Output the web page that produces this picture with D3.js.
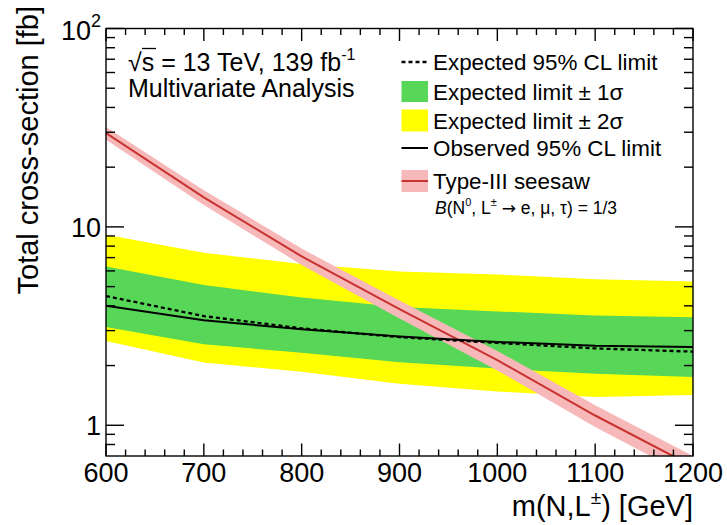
<!DOCTYPE html>
<html>
<head>
<meta charset="utf-8">
<script src="https://cdn.jsdelivr.net/npm/d3@7"></script>
<style>
  html, body { margin: 0; padding: 0; background: #fff; }
  svg { display: block; font-family: "Liberation Sans", Arial, Helvetica, sans-serif; }
</style>
</head>
<body>
<svg id="chart" width="727" height="525"></svg>
<script>
// Heavy-lepton mass points [GeV]
const mass = [600, 700, 800, 900, 1000, 1100, 1200];

// 95% CL upper limits on the total cross-section [fb]
const observed = [4.0, 3.38, 3.05, 2.80, 2.63, 2.52, 2.48];
const expected = [4.48, 3.55, 3.08, 2.78, 2.60, 2.44, 2.35];
const exp1Up   = [6.32, 5.10, 4.40, 3.95, 3.75, 3.58, 3.50];
const exp1Down = [3.13, 2.56, 2.32, 2.08, 1.93, 1.82, 1.75];
const exp2Up   = [9.14, 7.40, 6.50, 5.95, 5.75, 5.45, 5.30];
const exp2Down = [2.66, 2.07, 1.86, 1.62, 1.48, 1.39, 1.42];

// Type-III seesaw prediction and its uncertainty band [fb]
const theory     = [29.7, 14.1, 7.10, 3.85, 2.13, 1.12, 0.62];
const theoryUp   = [31.9, 15.3, 7.77, 4.25, 2.37, 1.26, 0.70];
const theoryDown = [27.5, 12.9, 6.43, 3.45, 1.89, 0.98, 0.54];

// Axis ticks
const xMajor = [600, 700, 800, 900, 1000, 1100, 1200];
const xMinor = d3.range(600, 1201, 20);
const yMajor = [1, 10, 100];
const yMinor = [0.8, 0.9, 2, 3, 4, 5, 6, 7, 8, 9, 20, 30, 40, 50, 60, 70, 80, 90];

const L = 106, R = 693, T = 28.5, B = 456;
const x = d3.scaleLinear().domain([600, 1200]).range([L, R]);
const y = d3.scaleLog().domain([0.7, 100]).range([B, T]);

const svg = d3.select("#chart");
svg.append("defs").append("clipPath").attr("id", "plotclip")
  .append("rect").attr("x", L).attr("y", T).attr("width", R - L).attr("height", B - T);

const plot = svg.append("g").attr("clip-path", "url(#plotclip)");

const idx = d3.range(mass.length);
const band = (lo, hi) => d3.area().x(i => x(mass[i])).y0(i => y(lo[i])).y1(i => y(hi[i]))(idx);
const line = arr => d3.line().x(i => x(mass[i])).y(i => y(arr[i]))(idx);

const YELLOW = "#ffff00", GREEN = "#57d657", PINK = "#f6b8b8", RED = "#c8322f";

plot.append("path").attr("d", band(exp2Down, exp2Up)).attr("fill", YELLOW);
plot.append("path").attr("d", band(exp1Down, exp1Up)).attr("fill", GREEN);
plot.append("path").attr("d", band(theoryDown, theoryUp)).attr("fill", PINK);
plot.append("path").attr("d", line(theory)).attr("fill", "none").attr("stroke", RED).attr("stroke-width", 2);
plot.append("path").attr("d", line(expected)).attr("fill", "none").attr("stroke", "#000")
  .attr("stroke-width", 2.3).attr("stroke-dasharray", "4,3");
plot.append("path").attr("d", line(observed)).attr("fill", "none").attr("stroke", "#000").attr("stroke-width", 2);

// Frame and inward ticks on all four sides
const axes = svg.append("g").attr("stroke", "#000").attr("stroke-width", 1.4);
axes.append("rect").attr("x", L).attr("y", T).attr("width", R - L).attr("height", B - T).attr("fill", "none");

xMinor.forEach(v => {
  const len = xMajor.includes(v) ? 12.5 : 6.5;
  axes.append("line").attr("x1", x(v)).attr("x2", x(v)).attr("y1", B).attr("y2", B - len);
  axes.append("line").attr("x1", x(v)).attr("x2", x(v)).attr("y1", T).attr("y2", T + len);
});
yMajor.concat(yMinor).forEach(v => {
  const len = yMajor.includes(v) ? 18 : 9;
  axes.append("line").attr("x1", L).attr("x2", L + len).attr("y1", y(v)).attr("y2", y(v));
  axes.append("line").attr("x1", R).attr("x2", R - len).attr("y1", y(v)).attr("y2", y(v));
});

// Tick labels
const tickFont = 27;
svg.append("g").selectAll("text").data(xMajor).join("text")
  .attr("x", d => x(d)).attr("y", 482).attr("text-anchor", "middle")
  .attr("font-size", tickFont).text(d => d);

svg.append("text").attr("x", 101).attr("y", y(1) + 9.7).attr("text-anchor", "end")
  .attr("font-size", tickFont).text("1");
svg.append("text").attr("x", 101).attr("y", y(10) + 9.7).attr("text-anchor", "end")
  .attr("font-size", tickFont).text("10");
const hundred = svg.append("text").attr("x", 101).attr("y", 40).attr("text-anchor", "end").attr("font-size", tickFont);
hundred.append("tspan").text("10");
hundred.append("tspan").attr("font-size", 18).attr("dy", -13).text("2");

// Axis titles
svg.append("text").attr("transform", "translate(38,6) rotate(-90)").attr("text-anchor", "end")
  .attr("font-size", 29).text("Total cross-section [fb]");
const xt = svg.append("text").attr("x", R).attr("y", 516).attr("text-anchor", "end").attr("font-size", 29);
xt.append("tspan").text("m(N,L");
xt.append("tspan").attr("font-size", 19).attr("dy", -12).text("±");
xt.append("tspan").attr("dy", 12).text(") [GeV]");

// Top-left annotations
const ann = svg.append("g").attr("font-size", 25);
const a1 = ann.append("text").attr("x", 128).attr("y", 71);
a1.append("tspan").text("√s = 13 TeV, 139 fb");
a1.append("tspan").attr("font-size", 16).attr("dy", -11).text("-1");
ann.append("line").attr("x1", 142).attr("x2", 156).attr("y1", 48.5).attr("y2", 48.5)
  .attr("stroke", "#000").attr("stroke-width", 1.3);
ann.append("text").attr("x", 128).attr("y", 97).text("Multivariate Analysis");

// Legend
const lg = svg.append("g");
const lx0 = 401.5, lx1 = 428, tx = 433, lFont = 22.4;
lg.append("line").attr("x1", lx0).attr("x2", lx1).attr("y1", 62).attr("y2", 62)
  .attr("stroke", "#000").attr("stroke-width", 2.3).attr("stroke-dasharray", "4,3");
lg.append("rect").attr("x", lx0).attr("y", 81).attr("width", lx1 - lx0).attr("height", 21).attr("fill", GREEN);
lg.append("rect").attr("x", lx0).attr("y", 109.5).attr("width", lx1 - lx0).attr("height", 22).attr("fill", YELLOW);
lg.append("line").attr("x1", lx0).attr("x2", lx1).attr("y1", 148).attr("y2", 148)
  .attr("stroke", "#000").attr("stroke-width", 2);
lg.append("rect").attr("x", lx0).attr("y", 170).attr("width", lx1 - lx0).attr("height", 22).attr("fill", PINK);
lg.append("line").attr("x1", lx0).attr("x2", lx1).attr("y1", 181).attr("y2", 181)
  .attr("stroke", RED).attr("stroke-width", 2);

const legendRows = [
  ["Expected 95% CL limit", 62],
  ["Expected limit \u00B1 1\u03C3", 91.5],
  ["Expected limit \u00B1 2\u03C3", 120.5],
  ["Observed 95% CL limit", 148],
  ["Type-III seesaw", 181]
];
lg.selectAll("text.row").data(legendRows).join("text").attr("class", "row")
  .attr("x", tx).attr("y", d => d[1] + 8).attr("font-size", lFont).text(d => d[0]);

const br = lg.append("text").attr("x", 435).attr("y", 214).attr("font-size", 17.5);
br.append("tspan").attr("font-style", "italic").text("B");
br.append("tspan").text("(N");
br.append("tspan").attr("font-size", 11).attr("dy", -8).text("0");
br.append("tspan").attr("dy", 8).text(", L");
br.append("tspan").attr("font-size", 11).attr("dy", -8).text("\u00B1");
br.append("tspan").attr("dy", 8).text(" ");
br.append("tspan").attr("font-family", "DejaVu Sans").attr("font-size", 17).text("\u2192");
br.append("tspan").text(" e, \u03BC, \u03C4) = 1/3");
</script>
</body>
</html>
